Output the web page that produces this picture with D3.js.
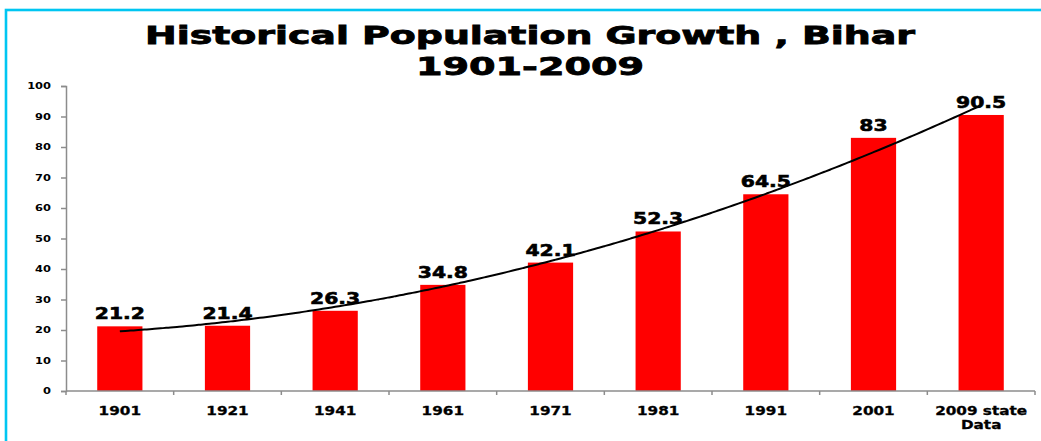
<!DOCTYPE html>
<html>
<head>
<meta charset="utf-8">
<script src="https://cdn.jsdelivr.net/npm/d3@7"></script>
<style>
  html, body { margin: 0; padding: 0; background: #fff; }
  svg { display: block; }
  text { font-family: "DejaVu Sans", Verdana, sans-serif; font-weight: bold; fill: #000; }
</style>
</head>
<body>
<svg id="chart" width="1041" height="441"></svg>
<script>
// Census years (last one is the 2009 state estimate)
const categories = ["1901", "1921", "1941", "1961", "1971", "1981", "1991", "2001", "2009 state\nData"];
// Population in millions
const population = [21.2, 21.4, 26.3, 34.8, 42.1, 52.3, 64.5, 83, 90.5];
const yTicks = [0, 10, 20, 30, 40, 50, 60, 70, 80, 90, 100];
const titleLines = ["Historical Population Growth , Bihar", "1901-2009"];

const svg = d3.select("#chart");
const W = 1041, H = 441;
const stretch = 1.27; // horizontal widening of the bold lettering

// Frame
svg.append("rect")
  .attr("x", 6).attr("y", 10)
  .attr("width", W + 20).attr("height", H + 20)
  .attr("fill", "#fff")
  .attr("stroke", "#00c6f2").attr("stroke-width", 2.6);

// Title
const titleWidths = [770, 228];
const titleBase = [44, 75];
titleLines.forEach((t, i) => {
  svg.append("text")
    .attr("x", 530).attr("y", titleBase[i])
    .attr("text-anchor", "middle")
    .attr("font-size", 24)
    .attr("stroke", "#000").attr("stroke-width", 0.8)
    .attr("textLength", titleWidths[i])
    .attr("lengthAdjust", "spacingAndGlyphs")
    .text(t);
});

const x = d3.scaleBand()
  .domain(categories)
  .range([66, 1035])
  .paddingInner(0).paddingOuter(0);

const y = d3.scaleLinear().domain([0, 100]).range([391, 86]);

// widen a text element horizontally around its anchor
function widen(sel) {
  sel.each(function () {
    const len = this.getComputedTextLength();
    d3.select(this).attr("textLength", len * stretch).attr("lengthAdjust", "spacingAndGlyphs");
  });
}

// Y axis
const yAxis = svg.append("g")
  .attr("transform", `translate(${x.range()[0]},0)`)
  .call(d3.axisLeft(y).tickValues(yTicks).tickSize(5).tickPadding(10));
yAxis.select(".domain").attr("stroke", "#8c8c8c").attr("stroke-width", 1.5);
yAxis.selectAll(".tick line").attr("stroke", "#8c8c8c").attr("stroke-width", 1.5);
yAxis.selectAll(".tick text")
  .attr("font-size", 9)
  .attr("font-family", "DejaVu Sans, sans-serif")
  .attr("font-weight", "bold")
  .attr("fill", "#000")
  .call(widen);

// Bars
const barW = x.bandwidth() * 0.42;
svg.append("g").selectAll("rect")
  .data(population)
  .join("rect")
  .attr("x", (d, i) => x(categories[i]) + x.bandwidth() / 2 - barW / 2)
  .attr("y", d => y(d))
  .attr("width", barW)
  .attr("height", d => y(0) - y(d))
  .attr("fill", "#ff0000");

// X axis with ticks at category boundaries
const xAxis = svg.append("g").attr("transform", `translate(0,${y(0)})`);
xAxis.append("line")
  .attr("x1", x.range()[0]).attr("x2", x.range()[1])
  .attr("stroke", "#8c8c8c").attr("stroke-width", 1.5);
const bounds = categories.map(c => x(c)).concat([x.range()[1]]);
xAxis.selectAll("line.tk")
  .data(bounds)
  .join("line")
  .attr("class", "tk")
  .attr("x1", d => d).attr("x2", d => d)
  .attr("y1", 0).attr("y2", 4)
  .attr("stroke", "#8c8c8c").attr("stroke-width", 1.5);

const xl = xAxis.selectAll("text.cat")
  .data(categories)
  .join("text")
  .attr("class", "cat")
  .attr("text-anchor", "middle")
  .attr("font-size", 12)
  .attr("stroke", "#000").attr("stroke-width", 0.3);
xl.each(function (c) {
  const parts = c.split("\n");
  const t = d3.select(this);
  parts.forEach((p, k) => {
    t.append("tspan")
      .attr("x", x(c) + x.bandwidth() / 2)
      .attr("y", 24 + k * 14)
      .text(p);
  });
});
xl.selectAll("tspan").each(function () {
  const len = this.getComputedTextLength();
  d3.select(this).attr("textLength", len * stretch).attr("lengthAdjust", "spacingAndGlyphs");
});

// Quadratic trendline fitted to the bar values
(function () {
  const n = population.length;
  const xs = population.map((d, i) => i + 1);
  // normal equations for y = a + b x + c x^2
  let S = [0, 0, 0, 0, 0], T = [0, 0, 0];
  xs.forEach((xi, i) => {
    for (let k = 0; k < 5; k++) S[k] += Math.pow(xi, k);
    for (let k = 0; k < 3; k++) T[k] += population[i] * Math.pow(xi, k);
  });
  const M = [[S[0], S[1], S[2], T[0]], [S[1], S[2], S[3], T[1]], [S[2], S[3], S[4], T[2]]];
  for (let c = 0; c < 3; c++) {
    for (let r = c + 1; r < 3; r++) {
      const f = M[r][c] / M[c][c];
      for (let k = c; k < 4; k++) M[r][k] -= f * M[c][k];
    }
  }
  const coef = [0, 0, 0];
  for (let r = 2; r >= 0; r--) {
    let s = M[r][3];
    for (let k = r + 1; k < 3; k++) s -= M[r][k] * coef[k];
    coef[r] = s / M[r][r];
  }
  const fit = t => coef[0] + coef[1] * t + coef[2] * t * t;
  const px = t => x(categories[0]) + x.bandwidth() / 2 + (t - 1) * x.step();
  const pts = d3.range(1, n + 0.001, 0.05).map(t => [px(t), y(fit(t))]);
  svg.append("path")
    .attr("d", d3.line().curve(d3.curveBasis)(pts))
    .attr("fill", "none")
    .attr("stroke", "#000")
    .attr("stroke-width", 2);
})();

// Value labels
svg.append("g").selectAll("text")
  .data(population)
  .join("text")
  .attr("x", (d, i) => x(categories[i]) + x.bandwidth() / 2)
  .attr("y", d => y(d) - 7)
  .attr("text-anchor", "middle")
  .attr("font-size", 16)
  .attr("stroke", "#000").attr("stroke-width", 0.6)
  .text(d => d)
  .call(widen);
</script>
</body>
</html>
